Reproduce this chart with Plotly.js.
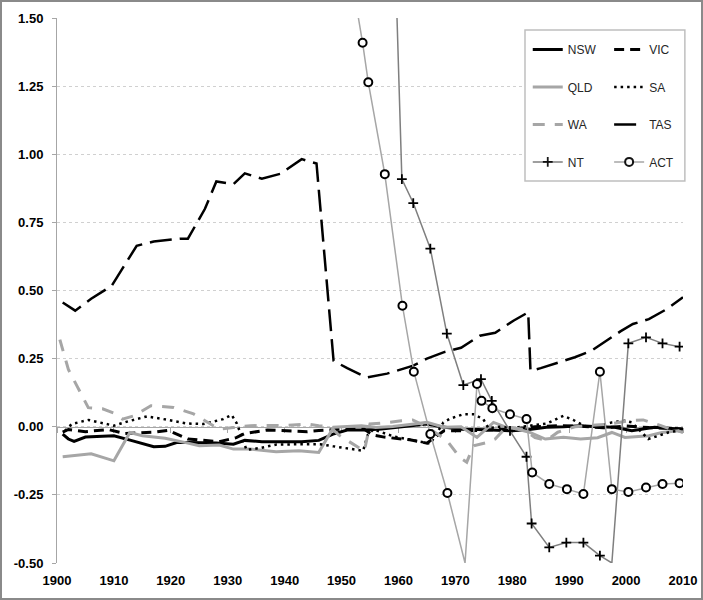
<!DOCTYPE html>
<html><head><meta charset="utf-8">
<script src="https://cdn.plot.ly/plotly-3.0.1.min.js"></script>
<style>
html,body{margin:0;padding:0;background:#fff;}
#wrap{width:703px;height:600px;box-sizing:border-box;border:2px solid #8a8a8a;overflow:hidden;}
#chart{width:699px;height:596px;}
</style></head><body><div id="wrap"><div id="chart"></div></div>
<script>
// ---- data ----
const xTicks = [1900,1910,1920,1930,1940,1950,1960,1970,1980,1990,2000,2010];
const yTicks = [-0.5,-0.25,0,0.25,0.5,0.75,1,1.25,1.5];
const yTickText = ['-0.50','-0.25','0.00','0.25','0.50','0.75','1.00','1.25','1.50'];

const nswYears = [1901,1902,1903,1905,1908,1910,1913,1915,1917,1919,1921,1923,1926,1928,1931,1933,1936,1940,1943,1946,1948.5,1951,1954,1957,1960,1963,1965,1967.5,1971,1974,1977,1980,1983,1986,1989,1992,1995,1998,2001,2003,2005,2008,2010];
const nswVals  = [-0.027,-0.045,-0.054,-0.038,-0.035,-0.033,-0.05,-0.062,-0.073,-0.072,-0.058,-0.058,-0.058,-0.06,-0.064,-0.05,-0.055,-0.055,-0.055,-0.05,-0.027,-0.012,-0.012,-0.008,-0.002,0.006,0.01,0.0,-0.009,-0.01,-0.012,-0.015,-0.01,-0.002,0.0,0.004,0.0,-0.002,-0.015,-0.008,-0.002,-0.006,-0.01];

const vicYears = [1901,1902,1905,1909,1912,1917,1919.5,1923,1928.5,1931.5,1933,1937,1944,1946,1950,1954,1955.5,1957.5,1962,1965,1968,1972,1976,1980,1984,1988,1992,1996,2000,2004,2008,2010];
const vicVals  = [-0.02,-0.01,-0.018,-0.01,-0.025,-0.02,-0.013,-0.045,-0.055,-0.04,-0.025,-0.012,-0.018,-0.014,-0.009,-0.009,-0.03,-0.038,-0.048,-0.06,-0.015,-0.015,-0.012,-0.008,0.0,0.004,0.002,-0.004,0.003,-0.003,-0.006,-0.008];

const qldYears = [1901,1906,1910,1912.8,1915,1919,1923,1925,1928.5,1931,1934,1938.5,1942.5,1946,1948.6,1951,1953.5,1956,1959,1962,1965,1968,1971,1973.8,1976.7,1979,1981,1983,1985.8,1989,1992,1995,1997.5,1999.8,2002,2004,2006.3,2009.2,2010];
const qldVals  = [-0.11,-0.099,-0.125,-0.021,-0.033,-0.042,-0.06,-0.07,-0.067,-0.082,-0.082,-0.092,-0.088,-0.094,-0.002,0.002,0.004,-0.003,0.001,0.008,0.016,-0.002,0.0,-0.039,0.016,-0.002,-0.009,-0.02,-0.045,-0.039,-0.045,-0.04,-0.021,-0.039,-0.035,-0.033,-0.021,-0.015,-0.02];

const saYears = [1901.4,1902.6,1905.5,1908.7,1910,1912.5,1915.8,1918.7,1922.8,1925.7,1929.2,1930.7,1931.6,1933.3,1935.7,1938.6,1942.7,1946.2,1948.6,1950.9,1953.8,1954.6,1955.6,1959.1,1962,1965.6,1967.9,1969.1,1971.4,1973.2,1974.9,1975.8,1978,1980,1983.1,1986.1,1989,1990.7,1993,1995,1997.5,1999.8,2001,2003.9,2005.7,2007.5,2010];
const saVals  = [-0.015,0.01,0.025,0.01,0.004,0.02,0.038,0.028,0.012,0.01,0.028,0.043,0.012,-0.085,-0.078,-0.065,-0.063,-0.064,-0.072,-0.08,-0.088,-0.03,-0.01,-0.035,-0.048,-0.062,0.016,0.03,0.046,0.046,0.028,-0.005,0.0,-0.005,0.004,0.012,0.04,0.025,0.0,0.002,0.016,0.022,0.016,-0.045,-0.033,-0.02,-0.012];

const waYears = [1900.5,1902,1903.5,1905.5,1908,1910,1911.5,1913.5,1916.5,1920.5,1924,1926.5,1928.5,1931,1934,1940,1944,1946,1948,1949.5,1952.5,1954,1955,1958,1960.5,1962.5,1965,1968.5,1970.8,1972,1973.2,1975.5,1977,1979,1982,1984,1986,1988,1991,1994,1997,2000.4,2003,2006,2008,2010];
const waVals  = [0.32,0.21,0.15,0.07,0.066,0.05,0.028,0.04,0.077,0.071,0.047,0.016,-0.009,-0.003,0.004,0.005,0.01,0.004,0.0,-0.03,-0.07,-0.09,0.01,0.015,0.022,0.025,0.0,-0.05,-0.113,-0.13,-0.07,-0.058,-0.045,0.0,-0.01,-0.04,-0.05,-0.02,0.0,0.005,0.01,0.022,0.025,0.005,-0.01,-0.02];

const tasYears = [1901,1903.2,1906,1909.6,1914,1917,1921.6,1923,1926,1928,1931,1933,1936,1939.2,1943,1945.6,1948.6,1951,1954.4,1958,1962.6,1965,1967.9,1971,1974.3,1977,1980.2,1982.8,1983.2,1985,1988,1991,1994,1996.6,1999,2001.2,2004,2007,2009.1,2010];
const tasVals  = [0.456,0.426,0.47,0.517,0.664,0.68,0.69,0.69,0.8,0.9,0.89,0.93,0.91,0.928,0.982,0.966,0.242,0.215,0.181,0.195,0.224,0.25,0.273,0.29,0.334,0.345,0.389,0.42,0.205,0.215,0.235,0.255,0.28,0.316,0.35,0.377,0.395,0.43,0.462,0.475];

const ntYears = [1957,1960.6,1962.6,1965.6,1968.5,1971.4,1974.5,1976.4,1979.6,1982.5,1983.4,1986.5,1989.5,1992.5,1995.4,1997.5,2000.4,2003.5,2006.4,2009.4];
const ntVals  = [3.4,0.909,0.821,0.654,0.342,0.153,0.175,0.095,-0.015,-0.11,-0.355,-0.443,-0.425,-0.425,-0.473,-0.5,0.306,0.328,0.306,0.294];

const actYears = [1952,1953.7,1954.7,1957.6,1960.7,1962.7,1965.6,1968.6,1971.7,1973.8,1974.6,1976.5,1979.6,1982.5,1983.5,1986.5,1989.6,1992.5,1995.4,1997.5,2000.4,2003.5,2006.4,2009.4];
const actVals  = [1.62,1.409,1.264,0.927,0.444,0.202,-0.027,-0.243,-0.5,0.157,0.095,0.068,0.046,0.028,-0.168,-0.21,-0.229,-0.247,0.202,-0.229,-0.239,-0.223,-0.21,-0.207];

// ---- chart ----
const Y_MIN = -0.5, Y_MAX = 1.5;
const edgeHidden = vals => vals.map(v => (v <= Y_MIN || v >= Y_MAX) ? 0 : 1);
const BLACK = '#000000', LGREY = '#a6a6a6', DGREY = '#7f7f7f';

function line(name, xs, ys, color, width, dash, legend, grp) {
  return {type:'scatter', mode:'lines', name, x:xs, y:ys, legend, legendgroup:grp,
          line:{color, width, dash}, hoverinfo:'skip'};
}
const traces = [
  line('NSW', nswYears, nswVals, BLACK, 3, 'solid', 'legend', 'g1'),
  line('VIC', vicYears, vicVals, BLACK, 3, '10px,6px', 'legend2', 'g2'),
  line('QLD', qldYears, qldVals, LGREY, 3, 'solid', 'legend', 'g3'),
  line('SA', saYears, saVals, BLACK, 2.5, '2.5px,4px', 'legend2', 'g4'),
  line('WA', waYears, waVals, LGREY, 3, '12px,10px', 'legend', 'g5'),
  line('TAS', tasYears, tasVals, BLACK, 2.5, '22px,8px', 'legend2', 'g6'),
  {type:'scatter', mode:'lines+markers', name:'NT', x:ntYears, y:ntVals, legend:'legend', legendgroup:'g7',
   line:{color:DGREY, width:1.5}, hoverinfo:'skip',
   marker:{symbol:'cross-thin', size:7, color:BLACK, opacity:edgeHidden(ntVals), line:{color:BLACK, width:1.8}}},
  {type:'scatter', mode:'lines+markers', name:'ACT', x:actYears, y:actVals, legend:'legend2', legendgroup:'g8',
   line:{color:LGREY, width:1.5}, hoverinfo:'skip',
   marker:{symbol:'circle', size:8, color:'#ffffff', opacity:edgeHidden(actVals), line:{color:BLACK, width:2}}}
];

const tickFont = {family:'Liberation Sans, Arial, sans-serif', size:13, color:'#000', weight:'bold'};
const legFont = {family:'Liberation Sans, Arial, sans-serif', size:12, color:'#262626'};
const layout = {
  width:699, height:596,
  margin:{l:55, r:18, t:16, b:35},
  paper_bgcolor:'#ffffff', plot_bgcolor:'#ffffff',
  showlegend:true,
  xaxis:{range:[1900,2010], tickvals:xTicks, ticktext:xTicks.map(String), showgrid:false, zeroline:false,
         showline:false, ticks:'outside', ticklen:5, tickcolor:'rgba(0,0,0,0)', tickfont:tickFont, fixedrange:true},
  xaxis2:{overlaying:'x', matches:'x', anchor:'free', position:0.25, range:[1900,2010], tickvals:xTicks,
          showticklabels:false, ticks:'outside', ticklen:5, tickcolor:'#a6a6a6', showline:true,
          linecolor:'#a6a6a6', linewidth:1, showgrid:false, zeroline:false, layer:'below traces'},
  yaxis:{range:[Y_MIN,Y_MAX], tickvals:yTicks, ticktext:yTickText, showgrid:true, gridcolor:'#d0d0d0',
         griddash:'dot', gridwidth:1, zeroline:false, showline:true, linecolor:'#a6a6a6', linewidth:1,
         ticks:'outside', ticklen:4, tickcolor:'#a6a6a6', tickfont:tickFont, ticklabelstandoff:6, fixedrange:true},
  legend:{x:0.752, xanchor:'left', y:0.969, yanchor:'top', bgcolor:'rgba(0,0,0,0)', borderwidth:0,
          tracegroupgap:18.5, font:legFont, itemwidth:30},
  legend2:{x:0.882, xanchor:'left', y:0.969, yanchor:'top', bgcolor:'rgba(0,0,0,0)', borderwidth:0,
          tracegroupgap:18.5, font:legFont, itemwidth:30},
  shapes:[{type:'rect', xref:'paper', yref:'paper', x0:0.7476, x1:1.003, y0:0.701, y1:0.978,
           fillcolor:'#ffffff', line:{color:'#bfbfbf', width:1.5}, layer:'above'}]
};
// empty companion trace so the zero-line axis is drawn
traces.unshift({type:'scatter', mode:'lines', x:[], y:[], xaxis:'x2', yaxis:'y', showlegend:false, hoverinfo:'skip'});
Plotly.newPlot('chart', traces, layout, {displayModeBar:false, staticPlot:true});
</script></body></html>
